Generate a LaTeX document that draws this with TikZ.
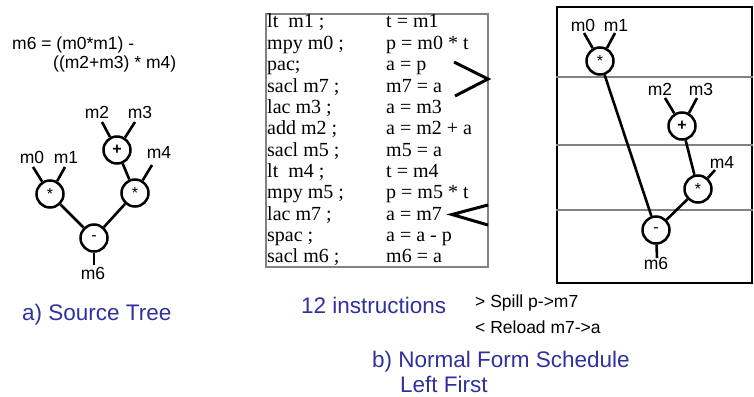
\documentclass[tikz,border=0pt]{standalone}
\usepackage{fontspec}
\setmainfont{Liberation Sans}
\newfontfamily\codefont{Liberation Serif}
\definecolor{capblue}{RGB}{48,48,158}
\definecolor{boxgray}{RGB}{130,130,130}
\begin{document}
\begin{tikzpicture}[x=1pt,y=-1pt,
  op/.style={circle,draw,line width=2.5pt,minimum size=27pt,inner sep=0pt,font=\fontsize{16}{16}\selectfont},
  lbl/.style={font=\fontsize{17.5}{17.5}\selectfont,inner sep=0pt},
  edge/.style={line width=2.6pt},
  codetxt/.style={font=\codefont\fontsize{20}{21}\selectfont,anchor=base west,inner sep=0pt},
  captxt/.style={font=\fontsize{22.5}{22.5}\selectfont,text=capblue,inner sep=0pt,anchor=west},
  notetxt/.style={font=\fontsize{17.5}{17.5}\selectfont,inner sep=0pt,anchor=west},
  marker/.style={line width=3pt}]
\useasboundingbox (0,0) rectangle (754,396);

% ---- a) source tree ----
\node[lbl,anchor=west] (eq1) at (12,45) {m6 = (m0*m1) -};
\node[lbl,anchor=west] (eq2) at (53,64) {((m2+m3) * m4)};

\node[op] (lA) at (50,194) {*};
\node[op] (lP) at (117,150) {\textbf{+}};
\node[op] (lB) at (135,193) {*};
\node[op] (lS) at (94,238) {-};

\node[lbl] (lm0) at (32,157) {m0};
\node[lbl] (lm1) at (66,157) {m1};
\node[lbl] (lm2) at (97,112) {m2};
\node[lbl] (lm3) at (140,112) {m3};
\node[lbl] (lm4) at (159,152) {m4};
\node[lbl] (lm6) at (93,273) {m6};

\coordinate (lt0) at (33,167);
\coordinate (lt1) at (65,167);
\coordinate (lt2) at (102,122);
\coordinate (lt3) at (135,122);
\coordinate (lt4) at (152,165);
\coordinate (lb6) at (94,265);

\draw[edge] (lt0) -- (lA);
\draw[edge] (lt1) -- (lA);
\draw[edge] (lt2) -- (lP);
\draw[edge] (lt3) -- (lP);
\draw[edge] (lt4) -- (lB);
\draw[edge] (lP) -- (lB);
\draw[edge] (lA) -- (lS);
\draw[edge] (lB) -- (lS);
\draw[edge] (lS) -- (lb6);

\node[captxt] (capa) at (22,315) {a) Source Tree};

% ---- b) code listing ----
\node[draw=boxgray,line width=1.3pt,minimum width=222pt,minimum height=253pt,inner sep=0pt] (codebox) at (377,140.5) {};
\foreach \i/\l/\r in {1/lt\ \ m1 ;/t = m1, 2/mpy m0 ;/p = m0 * t, 3/pac;/a = p, 4/sacl m7 ;/m7 = a,
  5/lac m3 ;/a = m3, 6/add m2 ;/a = m2 + a, 7/sacl m5 ;/m5 = a, 8/lt\ \ m4 ;/t = m4,
  9/mpy m5 ;/p = m5 * t, 10/lac m7 ;/a = m7, 11/spac ;/a = a - p, 12/sacl m6 ;/m6 = a}{
  \node[codetxt] (cl\i) at (267,{28+(\i-1)*21.36}) {\l};
  \node[codetxt] (cr\i) at (386,{28+(\i-1)*21.36}) {\r};
}
\draw[marker] (454,62) -- (488,79) -- (455,96);
\draw[marker] (488,205) -- (452,214.5) -- (488,225);

\node[captxt] (ninstr) at (301,305) {12 instructions};
\node[notetxt] (spill) at (475,303) {> Spill p->m7};
\node[notetxt] (reload) at (475,327) {< Reload m7->a};
\node[captxt] (capb1) at (372,362) {b) Normal Form Schedule};
\node[captxt] (capb2) at (400,384) {Left First};

% ---- schedule tree ----
\node[draw,line width=1.2pt,minimum width=195pt,minimum height=276pt,inner sep=0pt] (sched) at (654.5,145) {};
\draw[boxgray,line width=1.3pt] (sched.west |- 0,77) -- (sched.east |- 0,77);
\draw[boxgray,line width=1.3pt] (sched.west |- 0,145) -- (sched.east |- 0,145);
\draw[boxgray,line width=1.3pt] (sched.west |- 0,210) -- (sched.east |- 0,210);

\node[op] (rA) at (600,61) {*};
\node[op] (rP) at (682,126) {\textbf{+}};
\node[op] (rB) at (698,189) {*};
\node[op] (rS) at (656,230) {-};

\node[lbl] (rm0) at (583,25) {m0};
\node[lbl] (rm1) at (616,25) {m1};
\node[lbl] (rm2) at (660,89) {m2};
\node[lbl] (rm3) at (701,89) {m3};
\node[lbl] (rm4) at (722,162) {m4};
\node[lbl] (rm6) at (656,263) {m6};

\coordinate (rt0) at (584,33);
\coordinate (rt1) at (615,33);
\coordinate (rt2) at (665,98);
\coordinate (rt3) at (697,98);
\coordinate (rt4) at (715,170);
\coordinate (rb6) at (657,258);

\draw[edge] (rt0) -- (rA);
\draw[edge] (rt1) -- (rA);
\draw[edge] (rt2) -- (rP);
\draw[edge] (rt3) -- (rP);
\draw[edge] (rt4) -- (rB);
\draw[edge] (rP) -- (rB);
\draw[edge] (rA) -- (rS);
\draw[edge] (rB) -- (rS);
\draw[edge] (rS) -- (rb6);
\end{tikzpicture}
\end{document}
